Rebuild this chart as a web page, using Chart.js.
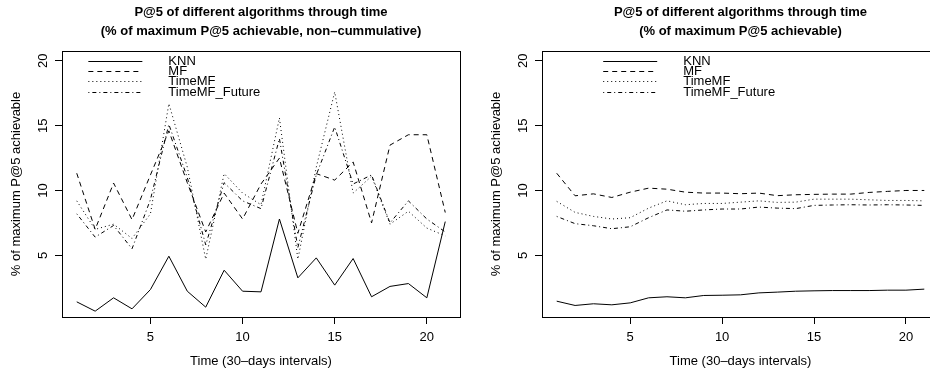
<!DOCTYPE html>
<html>
<head>
<meta charset="utf-8">
<script src="https://cdn.jsdelivr.net/npm/chart.js@4/dist/chart.umd.min.js"></script>
<style>
  html, body { margin: 0; padding: 0; background: #fff; overflow: hidden; width: 930px; height: 369px; }
  canvas { position: absolute; top: 0; }
</style>
</head>
<body>
<canvas id="left" width="470" height="369" style="left:0"></canvas>
<canvas id="right" width="470" height="369" style="left:480px"></canvas>
<script>
// time periods (30-day intervals)
const periods = [1, 2, 3, 4, 5, 6, 7, 8, 9, 10, 11, 12, 13, 14, 15, 16, 17, 18, 19, 20, 21];
const seriesNames = ['KNN', 'MF', 'TimeMF', 'TimeMF_Future'];
const xTicks = [5, 10, 15, 20];
const yTicks = [5, 10, 15, 20];

// left: non-cumulative
const knnNC = [1.41, 0.69, 1.72, 0.87, 2.36, 4.93, 2.23, 1.0, 3.85, 2.23, 2.18, 7.8, 3.26, 4.8, 2.7, 4.75, 1.8, 2.6, 2.82, 1.72, 7.6];
const mfNC  = [11.33, 7.0, 10.57, 7.75, 11.2, 14.6, 10.6, 6.8, 9.8, 7.8, 10.5, 12.5, 6.7, 11.3, 10.8, 12.2, 7.5, 13.5, 14.3, 14.3, 8.3];
const tmfNC = [9.2, 7.0, 7.4, 6.3, 8.2, 16.7, 11.8, 4.7, 11.3, 9.8, 8.9, 15.6, 4.7, 11.8, 17.6, 9.8, 11.1, 7.4, 8.4, 7.1, 6.5];
const futNC = [8.2, 6.4, 7.3, 5.5, 9.3, 15.1, 11.0, 5.8, 10.6, 9.2, 8.6, 14.0, 5.6, 11.2, 14.9, 10.5, 11.2, 7.5, 9.2, 7.8, 6.8];

// right: cumulative
const knnC = [1.46, 1.13, 1.26, 1.18, 1.33, 1.72, 1.8, 1.72, 1.9, 1.92, 1.95, 2.1, 2.16, 2.23, 2.26, 2.28, 2.28, 2.28, 2.31, 2.31, 2.39];
const mfC  = [11.33, 9.59, 9.74, 9.46, 9.87, 10.18, 10.1, 9.87, 9.8, 9.8, 9.75, 9.8, 9.6, 9.67, 9.7, 9.72, 9.72, 9.85, 9.93, 10.0, 10.0];
const tmfC = [9.16, 8.31, 8.0, 7.8, 7.9, 8.64, 9.2, 8.9, 9.0, 9.0, 9.1, 9.2, 9.08, 9.1, 9.33, 9.33, 9.33, 9.28, 9.23, 9.23, 9.2];
const futC = [8.0, 7.44, 7.28, 7.05, 7.2, 7.9, 8.5, 8.4, 8.5, 8.57, 8.57, 8.72, 8.64, 8.6, 8.85, 8.88, 8.9, 8.88, 8.9, 8.88, 8.85];

const FONT = '"Liberation Sans", Arial, sans-serif';
const dashes = [[], [5, 4], [1, 3], [1, 3, 4, 3]];

// R-like decorations: box, rotated y labels, two-line title, legend without box
const rStyle = {
  id: 'rStyle',
  afterDraw(chart, args, opts) {
    const { ctx, chartArea: a, scales: { x, y } } = chart;
    ctx.save();
    ctx.strokeStyle = '#000';
    ctx.lineWidth = 1;
    ctx.setLineDash([]);
    ctx.strokeRect(Math.round(a.left) + 0.5, Math.round(a.top) + 0.5,
                   Math.round(a.right - a.left), Math.round(a.bottom - a.top));

    ctx.fillStyle = '#000';
    ctx.font = '13px ' + FONT;
    ctx.textAlign = 'center';
    ctx.textBaseline = 'middle';
    y.ticks.forEach(t => {
      ctx.save();
      ctx.translate(a.left - 19, y.getPixelForValue(t.value));
      ctx.rotate(-Math.PI / 2);
      ctx.fillText(String(t.value), 0, 0);
      ctx.restore();
    });

    ctx.font = 'bold 13px ' + FONT;
    opts.title.forEach((line, i) => ctx.fillText(line, (a.left + a.right) / 2, 12.5 + i * 19));

    // legend
    ctx.font = '13px ' + FONT;
    ctx.textAlign = 'left';
    const x0 = x.getPixelForValue(opts.legendX);
    const y0 = y.getPixelForValue(20);
    chart.data.datasets.forEach((ds, i) => {
      const yy = Math.round(y0 + i * 10.3) + 0.5;
      ctx.setLineDash(ds.borderDash || []);
      ctx.beginPath();
      ctx.moveTo(x0, yy);
      ctx.lineTo(x0 + 54, yy);
      ctx.stroke();
      ctx.fillText(ds.label, x0 + 80, yy);
    });
    ctx.restore();
  }
};

function makeChart(id, series, title, legendX, padRight) {
  const datasets = series.map((vals, i) => ({
    label: seriesNames[i],
    data: periods.map((p, j) => ({ x: p, y: vals[j] })),
    borderColor: '#000',
    borderWidth: 1,
    borderDash: dashes[i],
    pointRadius: 0,
    tension: 0,
    fill: false
  }));
  return new Chart(document.getElementById(id), {
    type: 'line',
    data: { datasets },
    options: {
      responsive: false,
      animation: false,
      layout: { padding: { top: 51, right: padRight, left: 0, bottom: 0 } },
      plugins: {
        legend: { display: false },
        tooltip: { enabled: false },
        rStyle: { title, legendX }
      },
      scales: {
        x: {
          type: 'linear',
          min: 0.2,
          max: 21.8,
          afterBuildTicks: s => { s.ticks = xTicks.map(v => ({ value: v })); },
          afterFit: s => { s.height = 52; },
          border: { display: false },
          grid: { drawOnChartArea: false, drawTicks: true, tickLength: 7, color: '#000', lineWidth: 1 },
          ticks: { color: '#000', font: { family: FONT, size: 13 }, padding: 6, maxRotation: 0, autoSkip: false },
          title: { display: true, text: 'Time (30–days intervals)', color: '#000',
                   font: { family: FONT, size: 13 }, padding: { top: 0, bottom: 0 } }
        },
        y: {
          min: 0.24,
          max: 20.76,
          afterBuildTicks: s => { s.ticks = yTicks.map(v => ({ value: v })); },
          afterFit: s => { s.width = 62; },
          border: { display: false },
          grid: { drawOnChartArea: false, drawTicks: true, tickLength: 7, color: '#000', lineWidth: 1 },
          ticks: { display: false },
          title: { display: true, text: '% of maximum P@5 achievable', color: '#000',
                   font: { family: FONT, size: 13 }, padding: { top: 9, bottom: 0 } }
        }
      }
    },
    plugins: [rStyle]
  });
}

makeChart('left', [knnNC, mfNC, tmfNC, futNC],
  ['P@5 of different algorithms through time', '(% of maximum P@5 achievable, non–cummulative)'], 1.63, 10);
makeChart('right', [knnC, mfC, tmfC, futC],
  ['P@5 of different algorithms through time', '(% of maximum P@5 achievable)'], 3.53, 11);
</script>
</body>
</html>
